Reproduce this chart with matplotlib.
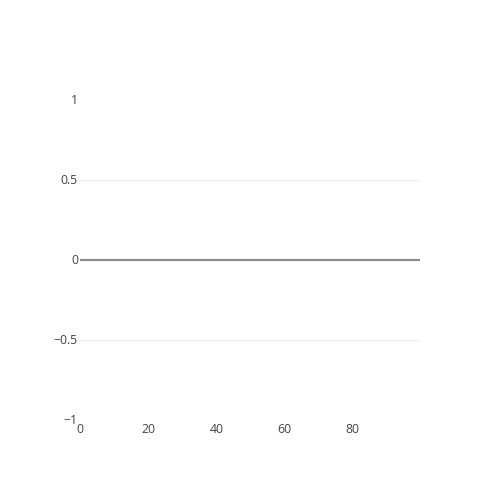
import matplotlib
matplotlib.use("Agg")
import matplotlib.pyplot as plt

# empty chart: no traces, only axes
x_values = []
y_values = []
x_range = (0, 99.7)
y_range = (-1, 1)
x_ticks = [0, 20, 40, 60, 80]
y_ticks = [-1, -0.5, 0, 0.5, 1]
y_tick_labels = ["\u22121", "\u22120.5", "0", "0.5", "1"]

TEXT = "#444444"
plt.rcParams["font.family"] = ["Open Sans", "DejaVu Sans"]

fig = plt.figure(figsize=(5, 5), dpi=100)
ax = fig.add_axes([0.16, 0.161, 0.68, 0.64])
ax.plot(x_values, y_values)
ax.set_xlim(*x_range)
ax.set_ylim(*y_range)

for y in [-0.5, 0.5]:
    ax.axhline(y, color="#eeeeee", lw=1, zorder=0)
ax.axhline(0, color="#8c8c8c", lw=1.6, zorder=1)

ax.set_xticks(x_ticks)
ax.set_yticks(y_ticks)
ax.set_yticklabels(y_tick_labels)
ax.tick_params(length=0, labelsize=8.8, labelcolor=TEXT)
ax.tick_params(axis="y", pad=1.5)
ax.tick_params(axis="x", pad=2.5)
for spine in ax.spines.values():
    spine.set_visible(False)

fig.savefig("out.png", dpi=100)
